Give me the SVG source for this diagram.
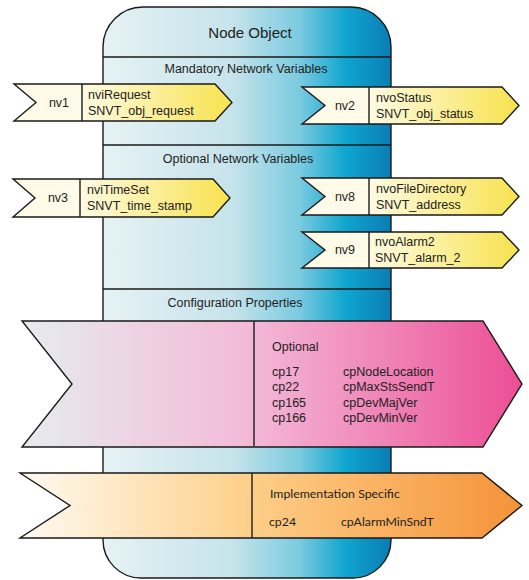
<svg xmlns="http://www.w3.org/2000/svg" width="529" height="580" viewBox="0 0 529 580">
<defs>
<linearGradient id="gBody" gradientUnits="userSpaceOnUse" x1="103" y1="0" x2="391" y2="0">
<stop offset="0" stop-color="#e6f2f4"/>
<stop offset="0.45" stop-color="#c6e3eb"/>
<stop offset="0.68" stop-color="#7ccbe0"/>
<stop offset="0.84" stop-color="#10a6cf"/>
<stop offset="1" stop-color="#0a7db5"/>
</linearGradient>
<linearGradient id="gYel" x1="0" y1="0" x2="1" y2="0">
<stop offset="0" stop-color="#fffbe2"/>
<stop offset="1" stop-color="#f7e24e"/>
</linearGradient>
<linearGradient id="gPink" gradientUnits="userSpaceOnUse" x1="22" y1="0" x2="522" y2="0">
<stop offset="0" stop-color="#e6ecef"/>
<stop offset="0.46" stop-color="#f3b9d7"/>
<stop offset="1" stop-color="#ec4e95"/>
</linearGradient>
<linearGradient id="gOrange" gradientUnits="userSpaceOnUse" x1="20" y1="0" x2="522" y2="0">
<stop offset="0" stop-color="#fffaf3"/>
<stop offset="0.46" stop-color="#fdcf88"/>
<stop offset="1" stop-color="#f59238"/>
</linearGradient>
</defs>
<style>
text{font-family:"Liberation Sans",Arial,sans-serif;fill:#222;font-size:12.5px}
.t{font-size:15px}
.c{text-anchor:middle}
.ln{stroke:#1a1a1a;stroke-width:1.4;fill:none}
.cream{fill:#fffbe8}
.yel{fill:url(#gYel)}
.out{fill:none;stroke:#1a1a1a;stroke-width:1.4;stroke-linejoin:miter}
.my{font-family:Lato,"Liberation Sans",sans-serif;font-size:12.3px}
</style>
<g id="node-object">
<path d="M103,47 A40,40 0 0 1 143,7 L351,7 A40,40 0 0 1 391,47 L391,540 A38,38 0 0 1 353,578 L141,578 A38,38 0 0 1 103,540 Z" fill="url(#gBody)" stroke="#1a1a1a" stroke-width="1.4"/>
<text class="t c" x="250" y="38">Node Object</text>
<line class="ln" x1="103" y1="57" x2="391" y2="57"/>
<text class="c" x="246" y="73">Mandatory Network Variables</text>
<line class="ln" x1="103" y1="145" x2="391" y2="145"/>
<text class="c" x="238" y="163">Optional Network Variables</text>
<line class="ln" x1="103" y1="289" x2="391" y2="289"/>
<text class="c" x="235" y="307">Configuration Properties</text>
</g>
<g id="nv1">
<polygon class="cream" points="14,84 82,84 82,121 14,121 36,102.5"/>
<polygon class="yel" points="82,84 215,84 232,102.5 215,121 82,121"/>
<polygon class="out" points="14,84 215,84 232,102.5 215,121 14,121 36,102.5"/>
<line class="ln" x1="82" y1="84" x2="82" y2="121"/>
<text class="c" x="59" y="107">nv1</text>
<text x="88" y="99">nviRequest</text>
<text x="88" y="115">SNVT_obj_request</text>
</g>
<g id="nv2">
<polygon class="cream" points="302,87 369,87 369,124 302,124 325,105.5"/>
<polygon class="yel" points="369,87 502,87 519,105.5 502,124 369,124"/>
<polygon class="out" points="302,87 502,87 519,105.5 502,124 302,124 325,105.5"/>
<line class="ln" x1="369" y1="87" x2="369" y2="124"/>
<text class="c" x="345" y="110">nv2</text>
<text x="376" y="102">nvoStatus</text>
<text x="376" y="118">SNVT_obj_status</text>
</g>
<g id="nv3">
<polygon class="cream" points="13,179 80,179 80,217 13,217 35,198"/>
<polygon class="yel" points="80,179 213,179 230,198 213,217 80,217"/>
<polygon class="out" points="13,179 213,179 230,198 213,217 13,217 35,198"/>
<line class="ln" x1="80" y1="179" x2="80" y2="217"/>
<text class="c" x="58" y="202">nv3</text>
<text x="87" y="194">nviTimeSet</text>
<text x="87" y="210">SNVT_time_stamp</text>
</g>
<g id="nv8">
<polygon class="cream" points="302,178 369,178 369,215 302,215 325,196.5"/>
<polygon class="yel" points="369,178 502,178 519,196.5 502,215 369,215"/>
<polygon class="out" points="302,178 502,178 519,196.5 502,215 302,215 325,196.5"/>
<line class="ln" x1="369" y1="178" x2="369" y2="215"/>
<text class="c" x="345" y="201">nv8</text>
<text x="376" y="193">nvoFileDirectory</text>
<text x="376" y="209">SNVT_address</text>
</g>
<g id="nv9">
<polygon class="cream" points="302,232 369,232 369,268 302,268 325,250"/>
<polygon class="yel" points="369,232 502,232 519,250 502,268 369,268"/>
<polygon class="out" points="302,232 502,232 519,250 502,268 302,268 325,250"/>
<line class="ln" x1="369" y1="232" x2="369" y2="268"/>
<text class="c" x="345" y="254">nv9</text>
<text x="375" y="246">nvoAlarm2</text>
<text x="375" y="262">SNVT_alarm_2</text>
</g>
<g id="cp-optional">
<polygon points="22,321 483,321 522,384 483,447 22,447 72,384" fill="url(#gPink)" stroke="#1a1a1a" stroke-width="1.4"/>
<line class="ln" x1="254" y1="321" x2="254" y2="446"/>
<text x="272" y="351">Optional</text>
<text x="272" y="376">cp17</text>
<text x="343" y="376">cpNodeLocation</text>
<text x="272" y="391">cp22</text>
<text x="343" y="391">cpMaxStsSendT</text>
<text x="272" y="407">cp165</text>
<text x="343" y="407">cpDevMajVer</text>
<text x="272" y="422">cp166</text>
<text x="343" y="422">cpDevMinVer</text>
</g>
<g id="cp-impl">
<polygon points="20,473 482,473 522,505.5 482,538 20,538 70,505.5" fill="url(#gOrange)" stroke="#1a1a1a" stroke-width="1.4"/>
<line class="ln" x1="252" y1="473" x2="252" y2="538"/>
<text class="my" x="270" y="498">Implementation Specific</text>
<text class="my" x="269" y="526">cp24</text>
<text class="my" x="341" y="526">cpAlarmMinSndT</text>
</g>
<g id="connectors"/>
</svg>
